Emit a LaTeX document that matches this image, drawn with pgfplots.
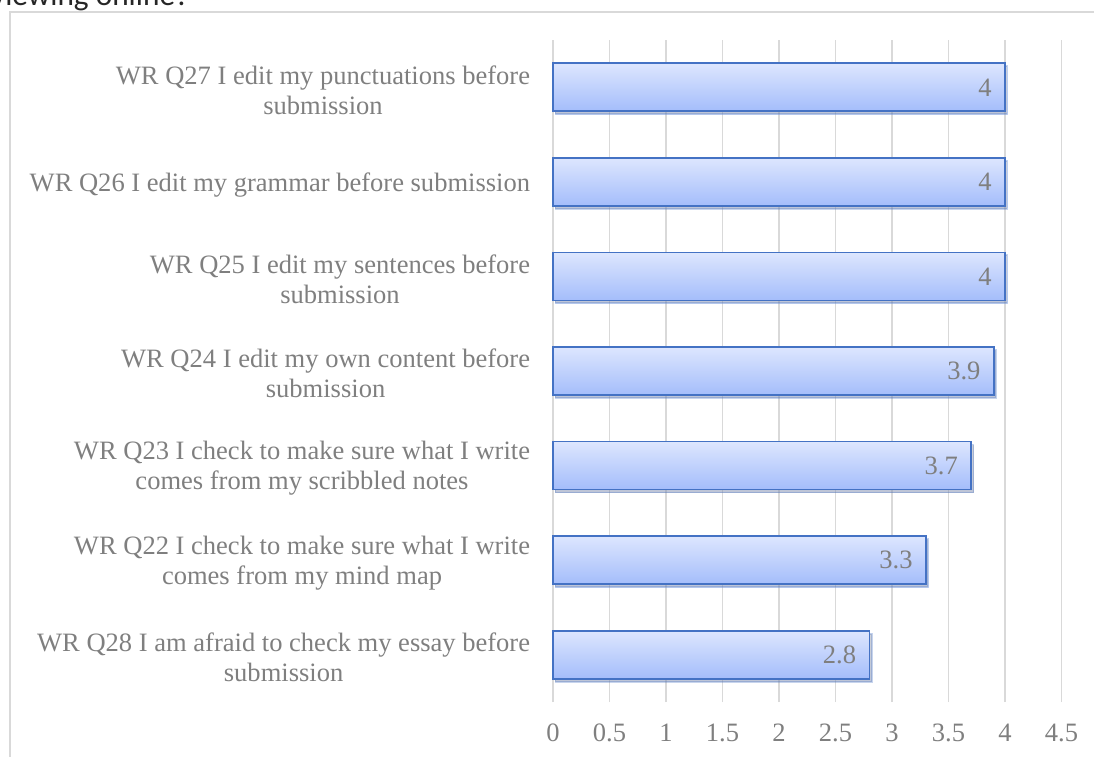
\documentclass[border=0pt]{standalone}
\usepackage{pgfplots}
\pgfplotsset{compat=1.18}
\usepackage{fontspec}
\setmainfont{Liberation Serif}
\newfontfamily\calibri{Carlito}
\usetikzlibrary{shadows}
\definecolor{gridgray}{HTML}{D9D9D9}
\definecolor{labgray}{HTML}{7F7F7F}
\definecolor{barborder}{HTML}{4472C4}
\definecolor{bartop}{HTML}{DDE6FE}
\definecolor{barbot}{HTML}{A4BDFB}
\pgfplotsset{mybar/.style={xbar, bar width=36pt, bar shift=0pt, draw=barborder, line width=1.3pt,
  top color=bartop, bottom color=barbot,
  drop shadow={shadow xshift=1.8pt, shadow yshift=-2.2pt, opacity=0.3, fill=black!70},
  nodes near coords,
  nodes near coords style={anchor=east, xshift=-6pt, text=labgray, font=\fontsize{19.9}{22}\selectfont},
  point meta=x,
  /pgf/number format/precision=1}}
\begin{document}
\begin{tikzpicture}
\useasboundingbox (0,0) rectangle (820.5pt,567pt);
\clip (0,0) rectangle (820.5pt,567pt);
% outer frame
\draw[gridgray, line width=1.1pt] (7.5pt,558pt) rectangle (830pt,-10pt);
% heading, cut off at the top as in the reference
\node[anchor=base east, inner sep=0pt, font=\calibri\fontsize{23.5}{27}\selectfont, text=black!85] at (142.5pt,562.5pt) {viewing online?};
\begin{axis}[
  at={(414.75pt,40.5pt)}, anchor=south west,
  scale only axis,
  width=381.4pt, height=496.5pt,
  xmin=0, xmax=4.5,
  ymin=-0.5, ymax=6.5,
  xtick={0,0.5,...,4.5},
  ytick={0,...,6},
  yticklabels={
    {WR Q28 I am afraid to check my essay before\\submission},
    {WR Q22 I check to make sure what I write\\comes from my mind map},
    {WR Q23 I check to make sure what I write\\comes from my scribbled notes},
    {WR Q24 I edit my own content before\\submission},
    {WR Q25 I edit my sentences before\\submission},
    {WR Q26 I edit my grammar before submission},
    {WR Q27 I edit my punctuations before\\submission}},
  yticklabel style={align=center, anchor=east, inner sep=0pt, xshift=-17pt, yshift=-2pt,
    font=\fontsize{19.9}{22.5}\selectfont, text=labgray},
  xticklabel style={anchor=north, inner sep=0pt, yshift=-16pt,
    font=\fontsize{19.9}{22}\selectfont, text=labgray},
  /pgf/number format/assume math mode=true,
  major tick length=0pt,
  xmajorgrids, grid style={gridgray, line width=1.1pt},
  axis line style={draw=none},
  clip=false,
]
\draw[gridgray, line width=1.1pt] (axis cs:0,-0.5) -- (axis cs:0,6.5);
\addplot[mybar] coordinates {(2.8,0)};
\addplot[mybar] coordinates {(3.3,1)};
\addplot[mybar] coordinates {(3.7,2)};
\addplot[mybar] coordinates {(3.9,3)};
\addplot[mybar] coordinates {(4,4)};
\addplot[mybar] coordinates {(4,5)};
\addplot[mybar] coordinates {(4,6)};
\end{axis}
\end{tikzpicture}
\end{document}
